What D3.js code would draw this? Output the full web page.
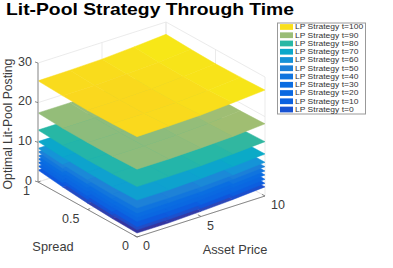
<!DOCTYPE html>
<html>
<head>
<meta charset="utf-8">
<script src="https://cdnjs.cloudflare.com/ajax/libs/d3/7.8.5/d3.min.js"></script>
<style>
html, body { margin: 0; padding: 0; background: #fff; }
svg { display: block; }
text { font-family: "Liberation Sans", Arial, sans-serif; }
</style>
</head>
<body>
<div id="chart"></div>
<script>
var priceTicks = [0, 5, 10];
var spreadTicks = [0, 0.5, 1];
var postingTicks = [0, 10, 20, 30];
var priceNodes = [0, 2.5, 5, 7.5, 10];
var spreadNodes = [0, 0.25, 0.5, 0.75, 1];
var times = [0, 10, 20, 30, 40, 50, 60, 70, 80, 90, 100];

// one row per spread node, one column per price node
var lpT0 = [
	[1.0, 1.0, 1.3, 1.7, 2.3],
	[1.2, 1.2, 1.5, 1.9, 2.5],
	[1.6, 1.6, 1.9, 2.3, 2.9],
	[2.2, 2.2, 2.5, 2.9, 3.5],
	[3.0, 3.0, 3.3, 3.7, 4.3]
];
var lpT10 = [
	[1.8, 1.9, 2.1, 2.6, 3.2],
	[2.1, 2.1, 2.4, 2.8, 3.5],
	[2.5, 2.6, 2.8, 3.3, 3.9],
	[3.2, 3.2, 3.5, 3.9, 4.6],
	[4.0, 4.1, 4.3, 4.8, 5.4]
];
var lpT20 = [
	[2.6, 2.7, 3.0, 3.5, 4.2],
	[2.9, 3.0, 3.3, 3.8, 4.5],
	[3.4, 3.5, 3.8, 4.3, 5.0],
	[4.0, 4.1, 4.4, 4.9, 5.6],
	[4.9, 5.0, 5.3, 5.8, 6.5]
];
var lpT30 = [
	[3.9, 4.0, 4.2, 4.7, 5.3],
	[4.1, 4.1, 4.4, 4.8, 5.5],
	[4.5, 4.5, 4.8, 5.2, 5.9],
	[5.0, 5.1, 5.3, 5.8, 6.4],
	[5.8, 5.9, 6.1, 6.6, 7.2]
];
var lpT40 = [
	[4.9, 5.0, 5.2, 5.7, 6.3],
	[5.0, 5.1, 5.3, 5.8, 6.4],
	[5.4, 5.4, 5.7, 6.1, 6.8],
	[5.9, 5.9, 6.2, 6.6, 7.3],
	[6.6, 6.7, 6.9, 7.4, 8.0]
];
var lpT50 = [
	[6.0, 6.1, 6.3, 6.8, 7.4],
	[6.1, 6.2, 6.4, 6.9, 7.5],
	[6.4, 6.5, 6.7, 7.2, 7.8],
	[6.9, 7.0, 7.2, 7.7, 8.3],
	[7.6, 7.7, 7.9, 8.4, 9.0]
];
var lpT60 = [
	[7.3, 7.3, 7.5, 7.9, 8.5],
	[7.3, 7.3, 7.5, 7.9, 8.5],
	[7.5, 7.5, 7.7, 8.1, 8.7],
	[7.9, 7.9, 8.1, 8.5, 9.1],
	[8.5, 8.5, 8.7, 9.1, 9.7]
];
var lpT70 = [
	[9.3, 9.3, 9.6, 10.0, 10.6],
	[9.2, 9.2, 9.5, 9.9, 10.5],
	[9.4, 9.4, 9.6, 10.0, 10.7],
	[9.7, 9.7, 9.9, 10.4, 11.0],
	[10.2, 10.2, 10.5, 10.9, 11.5]
];
var lpT80 = [
	[12.7, 12.7, 12.8, 13.2, 13.7],
	[12.5, 12.5, 12.6, 13.0, 13.5],
	[12.5, 12.5, 12.6, 13.0, 13.5],
	[12.7, 12.7, 12.8, 13.2, 13.7],
	[13.1, 13.1, 13.2, 13.6, 14.1]
];
var lpT90 = [
	[17.1, 17.1, 17.3, 17.6, 18.2],
	[16.9, 16.9, 17.0, 17.4, 18.0],
	[16.9, 16.8, 17.0, 17.4, 18.0],
	[17.0, 17.0, 17.2, 17.6, 18.1],
	[17.4, 17.4, 17.6, 17.9, 18.5]
];
var lpT100 = [
	[25.3, 25.4, 25.6, 26.1, 26.7],
	[25.1, 25.1, 25.3, 25.8, 26.5],
	[25.0, 25.1, 25.3, 25.8, 26.4],
	[25.2, 25.2, 25.5, 25.9, 26.6],
	[25.5, 25.6, 25.8, 26.3, 26.9]
];
var surfaces = [lpT0, lpT10, lpT20, lpT30, lpT40, lpT50, lpT60, lpT70, lpT80, lpT90, lpT100];

var width = 393,
	height = 268,
	origin = {x: 137, y: 237},
	svg = d3.select("#chart")
		.append("svg")
		.attr("width", width)
		.attr("height", height);

// oblique projection, each data axis gets a screen x and a screen y scale
var priceX = d3.scaleLinear().domain([0, 10]).range([0, 128]),
	priceY = d3.scaleLinear().domain([0, 10]).range([0, -41]),
	spreadX = d3.scaleLinear().domain([0, 1]).range([0, -99]),
	spreadY = d3.scaleLinear().domain([0, 1]).range([0, -55]),
	postingY = d3.scaleLinear().domain([0, 30]).range([0, -119]);

var colorScale = d3.scaleLinear()
	.domain([1, 1.6, 2.5, 3.4, 5.5, 7.4, 8.3, 10.2, 13, 17.5, 25, 26, 27])
	.range(["#37329b", "#2d48b8", "#0f55dc", "#0a64e1", "#0a6ee1", "#1e82d7", "#1496d7", "#0aaac8", "#28b7a4", "#9cbd76", "#fad61e", "#f8e21a", "#f5ee14"]);

function px(p, s) { return origin.x + priceX(p) + spreadX(s); }
function py(p, s, z) { return origin.y + priceY(p) + spreadY(s) + postingY(z); }

function seg(p1, s1, z1, p2, s2, z2, color, w) {
	svg.append("line")
		.attr("x1", px(p1, s1)).attr("y1", py(p1, s1, z1))
		.attr("x2", px(p2, s2)).attr("y2", py(p2, s2, z2))
		.attr("stroke", color)
		.attr("stroke-width", w);
}

// walls and floor grid
var gridColor = "#e6e6e6";
postingTicks.forEach(function (z) {
	seg(0, 1, z, 10, 1, z, gridColor, 0.8);
	seg(10, 1, z, 10, 0, z, gridColor, 0.8);
});
priceTicks.forEach(function (p) {
	seg(p, 1, 0, p, 1, 30, gridColor, 0.8);
	seg(p, 0, 0, p, 1, 0, gridColor, 0.8);
});
spreadTicks.forEach(function (s) {
	seg(10, s, 0, 10, s, 30, gridColor, 0.8);
	seg(0, s, 0, 10, s, 0, gridColor, 0.8);
});

// surfaces, lowest first so the later ones paint over
var quadLine = d3.line().curve(d3.curveLinearClosed);
surfaces.forEach(function (grid) {
	for (var i = spreadNodes.length - 2; i >= 0; i--) {
		for (var j = 0; j < priceNodes.length - 1; j++) {
			var corners = [[j, i], [j + 1, i], [j + 1, i + 1], [j, i + 1]];
			var pts = corners.map(function (c) {
				return [px(priceNodes[c[0]], spreadNodes[c[1]]), py(priceNodes[c[0]], spreadNodes[c[1]], grid[c[1]][c[0]])];
			});
			var fill = colorScale(d3.mean(corners, function (c) { return grid[c[1]][c[0]]; }));
			svg.append("path")
				.attr("d", quadLine(pts))
				.attr("fill", fill)
				.attr("stroke", fill)
				.attr("stroke-width", 0.5);
		}
	}
});

// axes
var axisColor = "#6e6e6e", labelColor = "#3c3c3c";
seg(0, 1, 0, 0, 0, 0, axisColor, 0.8);
seg(0, 0, 0, 10, 0, 0, axisColor, 0.8);
seg(0, 1, 0, 0, 1, 30, "#b4b4b4", 1.6);

function tickLabel(x, y, txt, anchor) {
	svg.append("text")
		.attr("x", x)
		.attr("y", y)
		.attr("text-anchor", anchor)
		.attr("font-size", 12.5)
		.attr("fill", labelColor)
		.text(txt);
}

postingTicks.forEach(function (z) {
	var x0 = px(0, 1), y0 = py(0, 1, z);
	svg.append("line")
		.attr("x1", x0 - 3).attr("y1", y0 - 1)
		.attr("x2", x0).attr("y2", y0)
		.attr("stroke", axisColor)
		.attr("stroke-width", 0.8);
	tickLabel(x0 - 6, y0 + 2.5, z, "end");
});
priceTicks.forEach(function (p) {
	var x0 = px(p, 0), y0 = py(p, 0, 0);
	seg(p, 0, 0, p, 0.03, 0, axisColor, 0.8);
	tickLabel(x0 + 6, y0 + 13, p, "start");
});
spreadTicks.forEach(function (s) {
	var x0 = px(0, s), y0 = py(0, s, 0);
	seg(0, s, 0, 0.2, s, 0, axisColor, 0.8);
	tickLabel(x0 - 8, y0 + 13, s, "end");
});

svg.append("text")
	.attr("x", 53).attr("y", 251)
	.attr("text-anchor", "middle")
	.attr("font-size", 12.8)
	.attr("fill", labelColor)
	.text("Spread");
svg.append("text")
	.attr("x", 235).attr("y", 254)
	.attr("text-anchor", "middle")
	.attr("font-size", 12.8)
	.attr("fill", labelColor)
	.text("Asset Price");
svg.append("text")
	.attr("transform", "translate(12,124) rotate(-90)")
	.attr("text-anchor", "middle")
	.attr("font-size", 12.2)
	.attr("fill", labelColor)
	.text("Optimal Lit-Pool Posting");

// the reference text is wider than its height gives, so stretch it
svg.append("text")
	.attr("x", 6).attr("y", 14.5)
	.attr("font-size", 17)
	.attr("font-weight", "bold")
	.attr("fill", "#000")
	.text("Lit-Pool Strategy Through Time")
	.attr("textLength", 288)
	.attr("lengthAdjust", "spacingAndGlyphs");

// legend
var legendRow = d3.scaleBand()
	.domain(times.slice().reverse())
	.range([22.6, 113.4]);

var legend = svg.append("g");
legend.append("rect")
	.attr("x", 277.5).attr("y", 23)
	.attr("width", 88).attr("height", 91)
	.attr("fill", "#fff")
	.attr("stroke", "#999")
	.attr("stroke-width", 1);

var rows = legend.selectAll("g")
	.data(times)
	.enter()
	.append("g")
	.attr("transform", function (d) { return "translate(0," + legendRow(d) + ")"; });
rows.append("rect")
	.attr("x", 280).attr("y", 1.5)
	.attr("width", 13).attr("height", legendRow.bandwidth() - 2.5)
	.attr("fill", function (d, i) {
		return colorScale(d3.mean(surfaces[i], function (r) { return d3.mean(r); }));
	});
rows.append("text")
	.attr("x", 295).attr("y", legendRow.bandwidth() - 1.4)
	.attr("font-size", 7)
	.attr("fill", "#333")
	.text(function (d) { return "LP Strategy t=" + d; })
	.attr("textLength", function () { return this.getComputedTextLength() * 1.215; })
	.attr("lengthAdjust", "spacingAndGlyphs");
</script>
</body>
</html>
